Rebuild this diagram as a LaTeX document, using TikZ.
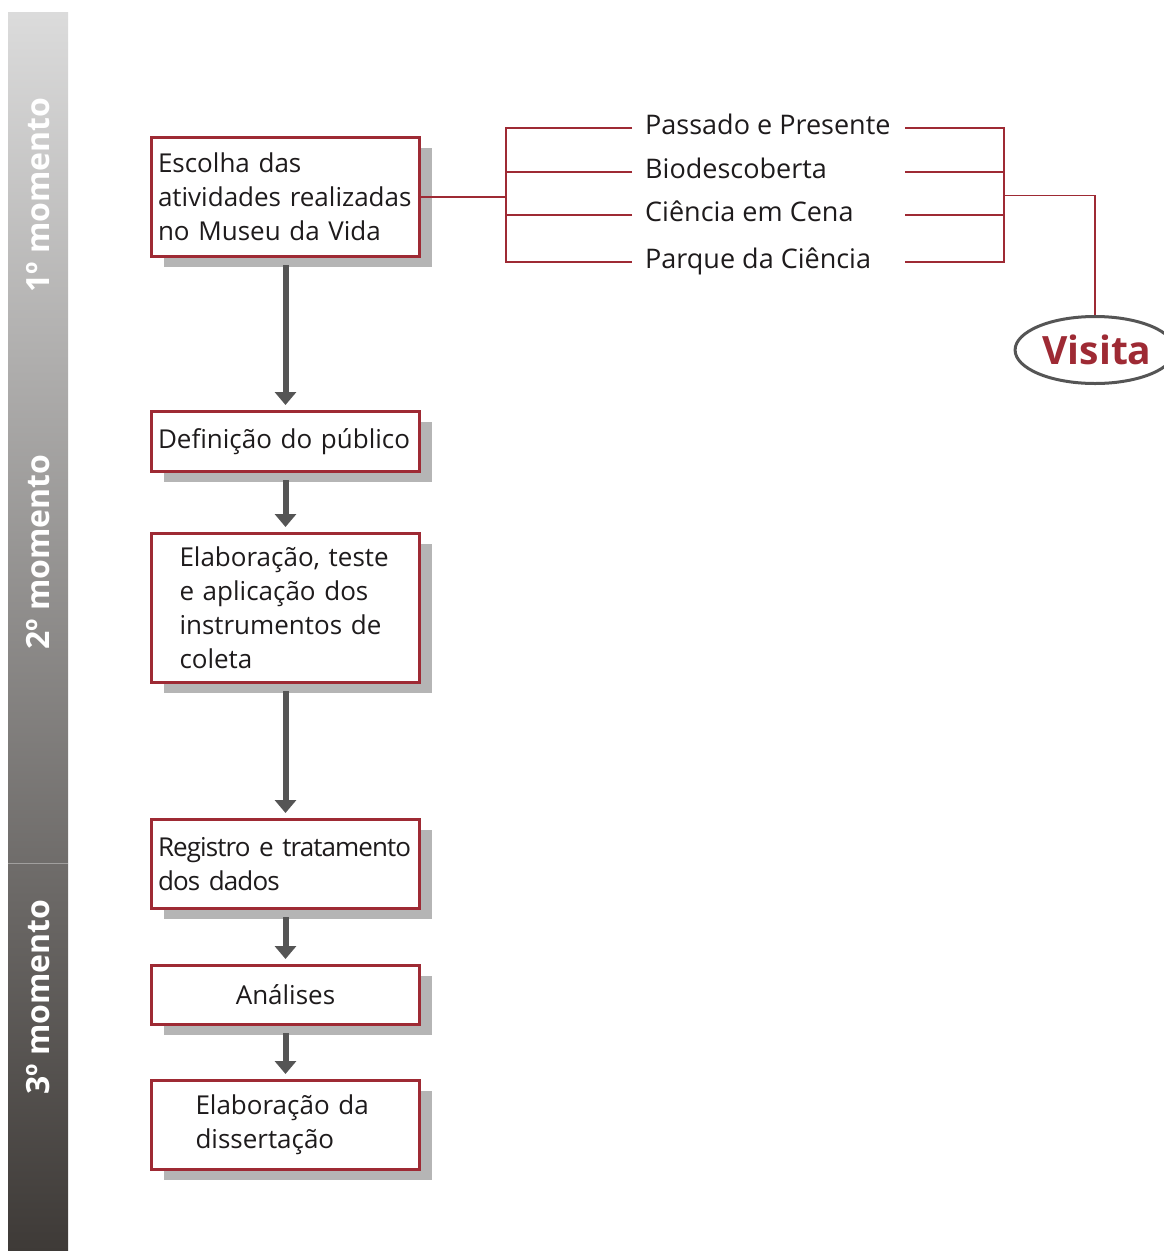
\documentclass[tikz,border=0pt]{standalone}
\usepackage{fontspec}
\setmainfont{Open Sans}
\newfontfamily\tightfont{Open Sans}[LetterSpace=-3.5,WordSpace=0.45]
\usetikzlibrary{arrows.meta,shapes.geometric}
\definecolor{boxred}{HTML}{9E2A34}
\definecolor{arrgray}{HTML}{555555}
\definecolor{shgray}{HTML}{B5B5B5}
\definecolor{txt}{HTML}{1E1B1C}
\tikzset{
  stepbox/.style={draw=boxred, line width=3pt, fill=white, anchor=north west,
    minimum width=268pt, text width=255pt, inner xsep=6.5pt, inner ysep=0pt, align=left,
    text=txt, font=\fontsize{26}{34}\selectfont,
    preaction={fill=shgray, draw=none, transform canvas={xshift=12pt,yshift=-10pt}}},
  flow/.style={draw=arrgray, line width=6pt, -{Triangle[width=21pt,length=13pt]},
    shorten <=7pt, shorten >=5pt},
  link/.style={draw=boxred, line width=1.8pt},
  act/.style={anchor=west, inner xsep=13pt, text=txt, text height=18pt, text depth=6pt,
    font=\fontsize{27}{30}\selectfont},
  moment/.style={rotate=90, text=white, font=\bfseries\fontsize{32}{32}\selectfont}
}
\begin{document}
\begin{tikzpicture}[x=1pt,y=-1pt]
\useasboundingbox (0,0) rectangle (1163,1251);
\fill[white] (0,0) rectangle (1163,1251);
% side bar
\shade[top color=black!14, middle color=black!44, bottom color={rgb,255:red,62;green,58;blue,55}] (8,12) rectangle (68,1251);
\draw[white, opacity=0.35, line width=1pt] (8,863) -- (68,863);
\node[moment] (m1) at (38,195) {1º momento};
\node[moment] (m2) at (38,552) {2º momento};
\node[moment] (m3) at (38,997) {3º momento};
% boxes
\node[stepbox, minimum height=119pt] (e1) at (150,136) {Escolha das\\atividades realizadas\\no Museu da Vida};
\node[stepbox, minimum height=60pt] (e2) at (150,410) {Definição do público};
\node[stepbox, minimum height=149pt, inner xsep=28pt, text width=212pt] (e3) at (150,532) {Elaboração, teste\\e aplicação dos\\instrumentos de\\coleta};
\node[stepbox, minimum height=89pt, font=\tightfont\fontsize{26}{34}\selectfont] (e4) at (150,818) {Registro e tratamento\\dos dados};
\node[stepbox, minimum height=59pt, align=center] (e5) at (150,964) {Análises};
\node[stepbox, minimum height=89pt, inner xsep=44pt, text width=180pt] (e6) at (150,1079) {Elaboração da\\dissertação};
% flow arrows
\draw[flow] (e1.south) -- (e2.north);
\draw[flow] (e2.south) -- (e3.north);
\draw[flow] (e3.south) -- (e4.north);
\draw[flow] (e4.south) -- (e5.north);
\draw[flow] (e5.south) -- (e6.north);
% activities
\node[act] (pp) at (632,128) {Passado e Presente};
\node[act] (bd) at (632,172) {Biodescoberta};
\node[act] (cc) at (632,215) {Ciência em Cena};
\node[act] (pc) at (632,262) {Parque da Ciência};
\coordinate (jl) at (506,195.5);
\coordinate (jr) at (1004,195.5);
\coordinate (rx) at (905,195.5);
\node[ellipse, draw=arrgray, line width=3pt, fill=white, minimum width=146pt, minimum height=67pt, inner sep=0pt,
  text=boxred, font=\bfseries\fontsize{39}{39}\selectfont] (vis) at (1095,350) {\hspace*{4pt}Visita};
\draw[link] (e1.east) -- (e1.east -| jl);
\draw[link] (pp.west) -- (pp.west -| jl) -- (pc.west -| jl) -- (pc.west);
\draw[link] (bd.west) -- (bd.west -| jl);
\draw[link] (cc.west) -- (cc.west -| jl);
\draw[link] (pp.west -| rx) -- (pp.west -| jr) -- (pc.west -| jr) -- (pc.west -| rx);
\draw[link] (bd.west -| rx) -- (bd.west -| jr);
\draw[link] (cc.west -| rx) -- (cc.west -| jr);
\draw[link] (jr) -| (vis.north);
\end{tikzpicture}
\end{document}
